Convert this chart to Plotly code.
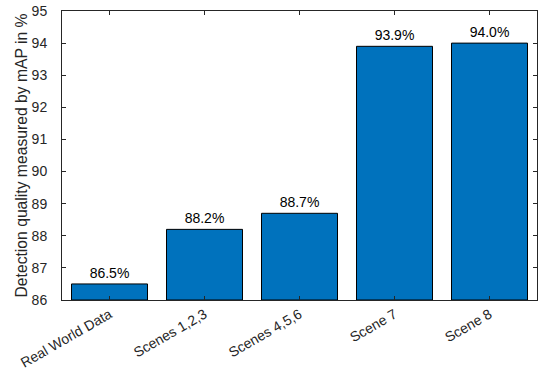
import plotly.graph_objects as go

categories = ["Real World Data", "Scenes 1,2,3", "Scenes 4,5,6", "Scene 7", "Scene 8"]
values = [86.5, 88.2, 88.7, 93.9, 94.0]
y_ticks = [86, 87, 88, 89, 90, 91, 92, 93, 94, 95]
y_base = 86

labels = [f"{v:.1f}%" for v in values]

fig = go.Figure()
fig.add_trace(go.Bar(
    x=list(range(1, len(categories) + 1)),
    y=[v - y_base for v in values],
    base=y_base,
    width=0.8,
    marker=dict(color="#0072BD", line=dict(color="#000000", width=1)),
    text=labels,
    textposition="outside",
    textfont=dict(family="Liberation Sans, Arial", size=14, color="#000000"),
    cliponaxis=False,
    hoverinfo="skip",
))

fig.update_layout(
    width=550, height=378,
    margin=dict(l=62, r=13, t=11, b=78),
    paper_bgcolor="white", plot_bgcolor="white",
    showlegend=False,
    font=dict(family="Liberation Sans, Arial", size=14, color="#262626"),
)
fig.update_xaxes(
    range=[0.5, 5.5],
    tickmode="array",
    tickvals=list(range(1, len(categories) + 1)),
    ticktext=categories,
    tickangle=-30,
    ticks="inside", ticklen=4, tickcolor="#262626",
    showline=True, linecolor="#262626", linewidth=1, mirror="allticks",
    showgrid=False, zeroline=False, automargin=False,
    tickfont=dict(size=14, color="#262626"),
)
fig.update_yaxes(
    range=[86, 95],
    tickmode="array",
    tickvals=y_ticks,
    ticktext=[str(t) for t in y_ticks],
    ticks="inside", ticklen=4, tickcolor="#262626",
    showline=True, linecolor="#262626", linewidth=1, mirror="allticks",
    showgrid=False, zeroline=False, automargin=False,
    tickfont=dict(size=14, color="#262626"),
    ticklabelstandoff=11,
    title=dict(text="Detection quality measured by mAP in %", font=dict(size=15.7, color="#262626"), standoff=0),
)
fig.write_html("out.html", config={"displayModeBar": False},
               post_script="document.body.style.margin='0';")
